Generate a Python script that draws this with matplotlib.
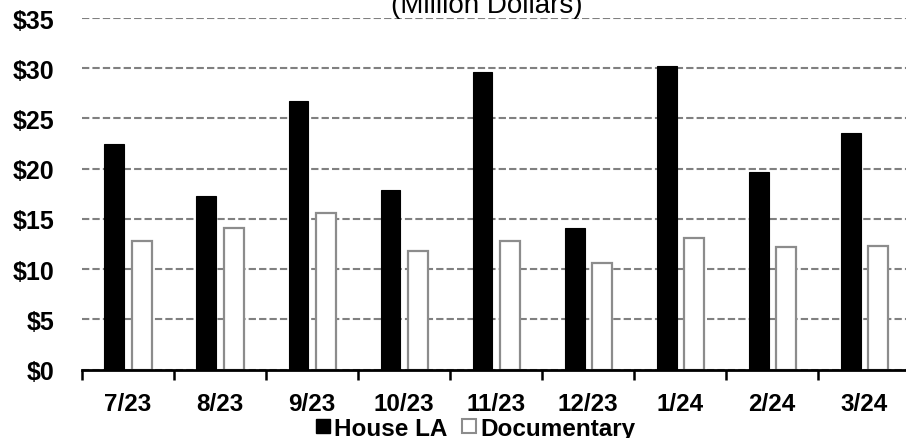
import numpy as np
import matplotlib
matplotlib.use("Agg")
import matplotlib.pyplot as plt
from matplotlib.lines import Line2D

plt.rcParams["font.family"] = ["Liberation Sans", "DejaVu Sans"]

months = ["7/23", "8/23", "9/23", "10/23", "11/23", "12/23", "1/24", "2/24", "3/24"]
house_la = [22.5, 17.3, 26.7, 17.9, 29.6, 14.1, 30.2, 19.7, 23.6]
documentary = [12.8, 14.1, 15.6, 11.8, 12.8, 10.6, 13.1, 12.2, 12.3]

fig = plt.figure(figsize=(9.06, 4.39), dpi=100)
ax = fig.add_axes([0.0905, 0.1556, 0.914, 0.8011])

x = np.arange(len(months))
w = 0.217
off = 0.147
ax.bar(x - off, house_la, width=w, color="black", edgecolor="black", linewidth=0.8, zorder=3)
ax.bar(x + off, documentary, width=w, color="white", edgecolor="#8c8c8c", linewidth=1.6, zorder=3)

ax.set_xlim(-0.5, len(months) - 0.5)
ax.set_ylim(0, 35)
ax.set_yticks(range(0, 36, 5))
ax.set_yticklabels([f"${v}" for v in range(0, 36, 5)], fontsize=18, fontweight="bold")
ax.yaxis.grid(True, color="#808080", linestyle=(0, (3.5, 1.5)), linewidth=1.5, zorder=0)
ax.tick_params(axis="y", length=0, pad=20)

# month labels at centres, tick marks at the boundaries
ax.set_xticks(x)
ax.set_xticklabels(months, fontsize=17.5, fontweight="bold")
ax.tick_params(axis="x", which="major", length=0, pad=16)
ax.set_xticks(np.arange(-0.5, len(months), 1), minor=True)
ax.tick_params(axis="x", which="minor", length=7, width=1.8, direction="out", color="black")

for s in ["top", "right", "left"]:
    ax.spines[s].set_visible(False)
ax.spines["bottom"].set_linewidth(2)
ax.spines["bottom"].set_zorder(4)

fig.text(0.5375, 0.970, "(Million Dollars)", ha="center", va="baseline", fontsize=20)

handles = [
    Line2D([], [], marker="s", linestyle="none", markersize=10, markerfacecolor="black", markeredgecolor="black"),
    Line2D([], [], marker="s", linestyle="none", markersize=10, markerfacecolor="white", markeredgecolor="#8c8c8c", markeredgewidth=1.5),
]
fig.legend(handles, ["House LA", "Documentary"], loc="center", bbox_to_anchor=(0.525, 0.022), ncol=2,
           frameon=False, handlelength=0.6, handletextpad=0.15, columnspacing=0.6,
           prop={"weight": "bold", "size": 17.5})

fig.savefig("out.png", dpi=100)
